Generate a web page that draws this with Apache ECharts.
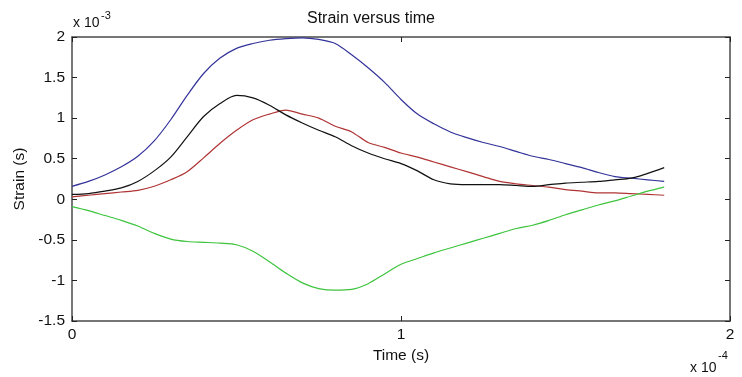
<!DOCTYPE html>
<html>
<head>
<meta charset="utf-8">
<script src="https://cdn.jsdelivr.net/npm/echarts@6/dist/echarts.min.js"></script>
<style>
html,body{margin:0;padding:0;background:#fff;}
#chart{width:742px;height:377px;}
</style>
</head>
<body>
<div id="chart"></div>
<script>
// time in units of 1e-4 s
var time = [0,0.05,0.1,0.15,0.2,0.25,0.3,0.35,0.4,0.45,0.5,0.55,0.6,0.65,0.7,0.75,0.8,0.85,0.9,0.95,1.0,1.05,1.1,1.15,1.2,1.25,1.3,1.35,1.4,1.45,1.5,1.55,1.6,1.65,1.7,1.75,1.8];
// strain in units of 1e-3
var blueStrain = [0.16,0.22,0.30,0.40,0.53,0.72,0.98,1.28,1.55,1.74,1.86,1.92,1.96,1.98,1.99,1.97,1.92,1.78,1.62,1.44,1.23,1.05,0.93,0.83,0.76,0.70,0.65,0.59,0.53,0.49,0.44,0.39,0.33,0.28,0.26,0.24,0.22];
var blackStrain = [0.06,0.07,0.10,0.14,0.22,0.35,0.52,0.77,1.02,1.18,1.28,1.25,1.16,1.04,0.94,0.85,0.77,0.66,0.57,0.50,0.44,0.35,0.24,0.19,0.18,0.18,0.18,0.17,0.16,0.18,0.20,0.21,0.22,0.24,0.26,0.32,0.39];
var redStrain = [0.03,0.05,0.07,0.09,0.11,0.16,0.24,0.34,0.51,0.69,0.85,0.98,1.05,1.10,1.05,1.00,0.90,0.83,0.70,0.64,0.57,0.52,0.46,0.40,0.34,0.28,0.22,0.19,0.17,0.15,0.12,0.10,0.08,0.08,0.07,0.06,0.05];
var greenStrain = [-0.09,-0.14,-0.20,-0.26,-0.33,-0.42,-0.49,-0.52,-0.53,-0.54,-0.56,-0.64,-0.77,-0.91,-1.03,-1.10,-1.12,-1.11,-1.04,-0.92,-0.80,-0.73,-0.66,-0.60,-0.54,-0.48,-0.42,-0.36,-0.32,-0.26,-0.19,-0.13,-0.07,-0.02,0.04,0.10,0.15];
var xTicks = ['0','1','2'];
var yTicks = ['-1.5','-1','-0.5','0','0.5','1','1.5','2'];

function pairs(ys){ return time.map(function(t,i){ return [t, ys[i]]; }); }

var FONT = '"Liberation Sans", Arial, sans-serif';
var AX = '#4a4a4a';
var chart = echarts.init(document.getElementById('chart'), null, {renderer:'canvas'});
var lineAx = {show:true, onZero:false, lineStyle:{color:AX, width:1.5}};
var tickIn = {show:true, inside:true, length:5, lineStyle:{color:'#222', width:1}};
chart.setOption({
  animation:false,
  backgroundColor:'#ffffff',
  title:{text:'Strain versus time', left:'center', top:11, padding:0,
    textStyle:{fontFamily:FONT, fontSize:16, fontWeight:'normal', color:'#111'}},
  grid:{left:72, right:12, top:37, bottom:56},
  xAxis:[{type:'value', min:0, max:2, interval:1, position:'bottom',
      name:'Time (s)', nameLocation:'middle', nameGap:24,
      nameTextStyle:{fontFamily:FONT, fontSize:15.5, color:'#111'},
      axisLine:lineAx, axisTick:tickIn, splitLine:{show:false},
      axisLabel:{margin:6, fontFamily:FONT, fontSize:15.5, color:'#111',
        formatter:function(v){ return xTicks[Math.round(v)]; }}},
    {type:'value', min:0, max:2, interval:1, position:'top',
      axisLine:lineAx, axisTick:tickIn, splitLine:{show:false}, axisLabel:{show:false}}],
  yAxis:[{type:'value', min:-1.5, max:2, interval:0.5, position:'left',
      name:'Strain (s)', nameLocation:'middle', nameGap:40,
      nameTextStyle:{fontFamily:FONT, fontSize:15.5, color:'#111'},
      axisLine:lineAx, axisTick:tickIn, splitLine:{show:false},
      axisLabel:{margin:7, fontFamily:FONT, fontSize:15.5, color:'#111',
        formatter:function(v){ return yTicks[Math.round((v+1.5)/0.5)]; }}},
    {type:'value', min:-1.5, max:2, interval:0.5, position:'right',
      axisLine:lineAx, axisTick:tickIn, splitLine:{show:false}, axisLabel:{show:false}}],
  series:[
    {type:'line', data:pairs(blueStrain), symbol:'none', smooth:0.3, lineStyle:{color:'#33339a', width:1.2}},
    {type:'line', data:pairs(redStrain), symbol:'none', smooth:0.3, lineStyle:{color:'#b03434', width:1.2}},
    {type:'line', data:pairs(blackStrain), symbol:'none', smooth:0.3, lineStyle:{color:'#111111', width:1.2}},
    {type:'line', data:pairs(greenStrain), symbol:'none', smooth:0.3, lineStyle:{color:'#3ec43e', width:1.2}}
  ],
  graphic:[
    {type:'text', left:73, top:16, style:{text:'x 10', font:'14px '+FONT, fill:'#111'}},
    {type:'text', left:101, top:10, style:{text:'-3', font:'11px '+FONT, fill:'#111'}},
    {type:'text', left:690, top:361, style:{text:'x 10', font:'14px '+FONT, fill:'#111'}},
    {type:'text', left:718, top:350, style:{text:'-4', font:'11px '+FONT, fill:'#111'}}
  ]
});
</script>
</body>
</html>
